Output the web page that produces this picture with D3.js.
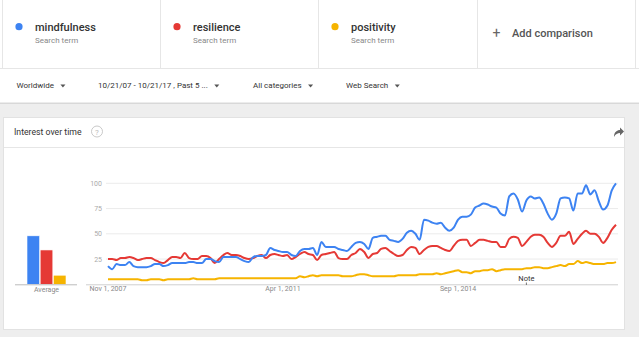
<!DOCTYPE html>
<html lang="en">
<head>
    <meta charset="utf-8" />
    <title>Interest over time</title>
    <script src="https://d3js.org/d3.v7.min.js"></script>
    <style>
        body { margin: 0; background: #fff; }
        svg { display: block; font-family: Roboto, "Open Sans", sans-serif; }
    </style>
</head>
<body>
    <svg id="chart"></svg>
    <script>
        let width = 639, height = 337;

        // search terms and their monthly interest, Nov 2007 - Oct 2017
        var terms = ["mindfulness", "resilience", "positivity"];
        var colors = ["#3d83f2", "#e53935", "#f6b400"];

        var mindfulness = [18, 15, 20, 19, 19, 22, 18, 17, 17, 17, 18, 20, 20, 18, 19, 21, 21, 21, 21, 22,
            22, 21, 21, 25, 25, 23, 22, 27, 27, 27, 27, 25, 23, 22, 27, 28, 28, 29, 36, 34,
            33, 32, 32, 29, 28, 33, 35, 35, 36, 29, 42, 37, 37, 37, 35, 34, 33, 37, 41, 42,
            40, 35, 46, 47, 48, 48, 44, 43, 42, 45, 51, 53, 50, 44, 64, 63, 61, 60, 61, 56,
            53, 56, 64, 67, 67, 69, 76, 78, 80, 79, 77, 76, 70, 68, 87, 90, 84, 72, 83, 87,
            85, 86, 80, 70, 64, 70, 85, 86, 85, 73, 90, 90, 98, 89, 93, 82, 74, 78, 93, 100];

        var resilience = [25, 25, 24, 26, 26, 27, 26, 24, 25, 26, 26, 24, 22, 21, 24, 27, 27, 26, 31, 26,
            25, 25, 28, 28, 26, 21, 25, 29, 31, 29, 29, 28, 26, 25, 26, 28, 29, 26, 29, 30,
            29, 28, 29, 25, 27, 30, 32, 30, 29, 24, 29, 30, 31, 32, 26, 25, 25, 29, 31, 35,
            32, 26, 30, 31, 35, 36, 33, 30, 28, 29, 34, 37, 36, 30, 34, 37, 38, 38, 36, 34,
            33, 38, 43, 44, 44, 38, 41, 44, 44, 43, 42, 42, 37, 37, 45, 47, 46, 38, 42, 47,
            49, 49, 47, 41, 37, 41, 48, 48, 52, 40, 45, 50, 53, 50, 50, 47, 41, 46, 54, 59];

        var positivity = [5, 5, 5, 5, 5, 5, 5, 5, 4, 4, 5, 5, 5, 4, 5, 5, 5, 5, 5, 5,
            6, 5, 5, 5, 5, 5, 6, 6, 6, 6, 6, 6, 6, 6, 6, 6, 6, 6, 6, 6,
            6, 6, 6, 6, 6, 8, 7, 8, 9, 8, 9, 9, 9, 9, 9, 8, 8, 8, 9, 10,
            10, 9, 8, 8, 8, 8, 8, 8, 9, 9, 9, 9, 9, 10, 10, 10, 10, 11, 10, 11,
            12, 13, 14, 12, 12, 11, 13, 13, 14, 14, 15, 13, 14, 15, 15, 15, 15, 15, 16, 16,
            17, 17, 16, 16, 17, 18, 19, 18, 20, 20, 23, 21, 22, 21, 20, 20, 20, 21, 21, 22];

        var averages = [48, 34, 9];

        var yTicks = [25, 50, 75, 100];
        var xTickDates = [new Date(2007, 10, 1), new Date(2011, 3, 1), new Date(2014, 8, 1)];
        var xTickLabels = ["Nov 1, 2007", "Apr 1, 2011", "Sep 1, 2014"];
        var noteDate = new Date(2016, 0, 1);

        var filters = ["Worldwide", "10/21/07 - 10/21/17 , Past 5 ...", "All categories", "Web Search"];
        var filterX = [16.5, 98, 253, 346];

        var months = d3.timeMonth.range(new Date(2007, 10, 1), new Date(2017, 10, 1));
        var series = [mindfulness, resilience, positivity];

        let svg = d3.select("#chart")
            .attr("width", width)
            .attr("height", height)
            .attr("viewBox", "0 0 " + width + " " + height);

        // page background
        svg.append("rect").attr("width", width).attr("height", height).attr("fill", "#eeeeee");

        // top term cards
        let termCards = svg.append("g");
        termCards.append("rect").attr("x", 0).attr("y", 0).attr("width", width).attr("height", 103).attr("fill", "#fff");
        termCards.append("line").attr("x1", 0).attr("x2", width).attr("y1", 68.5).attr("y2", 68.5)
            .attr("stroke", "#e6e6e6");
        [2.5, 160.5, 318.5, 477.5, 635.5].forEach(x => {
            termCards.append("line").attr("x1", x).attr("x2", x).attr("y1", 0).attr("y2", 68)
                .attr("stroke", "#e6e6e6");
        });
        var cardX = [19, 177, 335];
        terms.forEach((t, i) => {
            termCards.append("circle").attr("cx", cardX[i]).attr("cy", 26.7).attr("r", 3.6).attr("fill", colors[i]);
            termCards.append("text").attr("x", cardX[i] + 16).attr("y", 30.5).text(t)
                .attr("font-size", 11).attr("font-weight", 500).attr("fill", "#333");
            termCards.append("text").attr("x", cardX[i] + 16).attr("y", 43).text("Search term")
                .attr("font-size", 8).attr("fill", "#888");
        });
        termCards.append("text").attr("x", 496.5).attr("y", 38).text("+")
            .attr("text-anchor", "middle").attr("font-size", 14).attr("fill", "#666");
        termCards.append("text").attr("x", 512).attr("y", 37.3).text("Add comparison")
            .attr("font-size", 11).attr("font-weight", 500).attr("fill", "#555");

        // filter bar
        let bar = svg.append("g");
        bar.append("rect").attr("x", 0).attr("y", 102).attr("width", width).attr("height", 2).attr("fill", "#d8d8d8");
        bar.append("rect").attr("x", 0).attr("y", 69).attr("width", width).attr("height", 33.5).attr("fill", "#fff");
        filters.forEach((f, i) => {
            let t = bar.append("text").attr("x", filterX[i]).attr("y", 88.3).text(f)
                .attr("font-size", 8).attr("fill", "#333");
            let w = t.node().getComputedTextLength();
            let ax = filterX[i] + w + 9;
            bar.append("path")
                .attr("d", "M" + (ax - 2.5) + ",84.5 L" + (ax + 2.5) + ",84.5 L" + ax + ",87.5 Z")
                .attr("fill", "#555");
        });

        // chart card
        let card = svg.append("g");
        card.append("rect").attr("x", 3.5).attr("y", 117.5).attr("width", 621).attr("height", 212)
            .attr("fill", "#fff").attr("stroke", "#e2e2e2");
        card.append("line").attr("x1", 4).attr("x2", 624).attr("y1", 147.5).attr("y2", 147.5)
            .attr("stroke", "#e6e6e6");
        card.append("text").attr("x", 14).attr("y", 134.5).text("Interest over time")
            .attr("font-size", 8.7).attr("fill", "#333");
        card.append("circle").attr("cx", 97).attr("cy", 131.5).attr("r", 5.5)
            .attr("fill", "none").attr("stroke", "#bbb").attr("stroke-width", 0.8);
        card.append("text").attr("x", 97).attr("y", 134.5).text("?").attr("text-anchor", "middle")
            .attr("font-size", 8).attr("fill", "#bbb");
        card.append("path")
            .attr("d", "M614,137 C614,132 617,130 620,130 L620,127.5 L624,131.5 L620,135.5 L620,133 C617.5,133 615.5,134 614,137 Z")
            .attr("fill", "#666");

        // scales
        let x = d3.scaleTime().domain([months[0], months[months.length - 1]]).range([108, 616]);
        let y = d3.scaleLinear().domain([0, 100]).range([284.3, 183.3]);

        // gridlines
        let grid = svg.append("g");
        grid.selectAll("line").data(yTicks).enter().append("line")
            .attr("x1", 106).attr("x2", 618)
            .attr("y1", d => y(d)).attr("y2", d => y(d))
            .attr("stroke", "#ececec");
        grid.selectAll("text").data(yTicks).enter().append("text")
            .attr("x", 102).attr("y", d => y(d) + 2.5)
            .attr("text-anchor", "end").attr("font-size", 7).attr("fill", "#aaa")
            .text(d => d);
        svg.append("line").attr("x1", 86).attr("x2", 618).attr("y1", 284.8).attr("y2", 284.8)
            .attr("stroke", "#cfcfcf");

        // x axis labels
        let xl = svg.append("g");
        xl.selectAll("text").data(xTickDates).enter().append("text")
            .attr("x", d => x(d)).attr("y", 291)
            .attr("text-anchor", "middle").attr("font-size", 7).attr("fill", "#888")
            .text((d, i) => xTickLabels[i]);

        // lines
        let line = d3.line()
            .x((d, i) => x(months[i]))
            .y(d => y(d))
            .curve(d3.curveMonotoneX);
        for (let i = series.length - 1; i >= 0; i--) {
            svg.append("path")
                .attr("d", line(series[i]))
                .attr("fill", "none")
                .attr("stroke", colors[i])
                .attr("stroke-width", 2)
                .attr("stroke-linejoin", "round");
        }

        // note marker
        svg.append("text").attr("x", x(noteDate)).attr("y", 281).text("Note")
            .attr("text-anchor", "middle").attr("font-size", 7.5).attr("fill", "#333");
        svg.append("line").attr("x1", x(noteDate)).attr("x2", x(noteDate)).attr("y1", 282.5).attr("y2", 285)
            .attr("stroke", "#555").attr("stroke-width", 0.8);

        // average bars
        let bx = d3.scaleBand().domain(terms).range([27, 66]).paddingInner(0.04);
        svg.append("g").selectAll("rect").data(averages).enter().append("rect")
            .attr("x", (d, i) => bx(terms[i]))
            .attr("width", bx.bandwidth())
            .attr("y", d => y(d))
            .attr("height", d => y(0) - y(d))
            .attr("fill", (d, i) => colors[i])
            .attr("stroke", "#fff").attr("stroke-width", 0.6);
        svg.append("line").attr("x1", 15).attr("x2", 77).attr("y1", 284.8).attr("y2", 284.8)
            .attr("stroke", "#bbb");
        svg.append("text").attr("x", 46.5).attr("y", 291.5).text("Average")
            .attr("text-anchor", "middle").attr("font-size", 7).attr("fill", "#888");
    </script>
</body>
</html>
